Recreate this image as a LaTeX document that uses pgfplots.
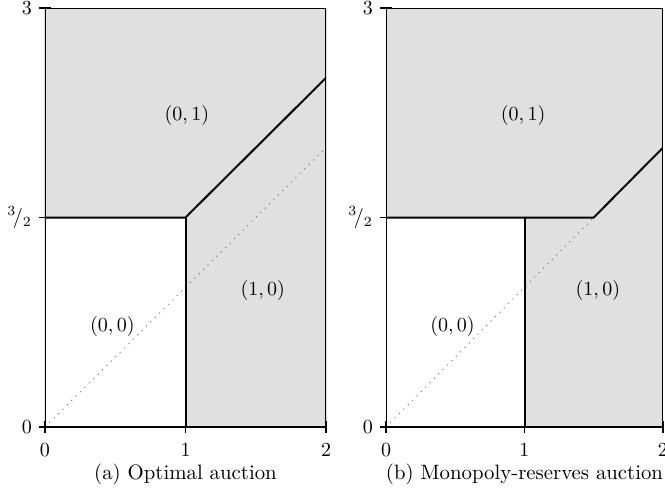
\documentclass[border=0pt]{standalone}
\usepackage{pgfplots}
\pgfplotsset{compat=1.18}
\definecolor{regiongray}{RGB}{224,224,224}
\pgfplotsset{
  content/.style={
    scale only axis,
    xmin=0, xmax=2, ymin=0, ymax=3,
    height=209.5pt,
    hide axis,
  },
  tickaxis/.style={
    scale only axis,
    xmin=0, xmax=2, ymin=0, ymax=3,
    height=209.5pt,
    axis x line*=bottom, axis y line*=left,
    xtick={0,1,2},
    ytick={0,1.5,3},
    yticklabels={$0$,${}^{3}\!/_{2}$,$3$},
    tick align=center,
    major tick length=6pt,
    major tick style={draw=black, line width=0.6pt},
    xticklabel style={yshift=-2pt, font=\fontsize{10.4}{12}\selectfont},
    yticklabel style={font=\fontsize{10.4}{12}\selectfont},
  },
  bnd/.style={black, line width=1pt},
  frm/.style={black, line width=0.9pt},
  diag/.style={black!55, line width=0.5pt, dash pattern=on 0.5pt off 2.6pt},
}
\begin{document}
\begin{tikzpicture}
\begin{axis}[content, width=140.5pt, at={(0pt,0pt)}, anchor=south west]
  \addplot[fill=regiongray, draw=none] coordinates {(0,1.5) (1,1.5) (1,0) (2,0) (2,3) (0,3)} -- cycle;
  \addplot[diag] coordinates {(0,0) (2,2)};
  \addplot[bnd] coordinates {(0,1.5) (1,1.5) (2,2.5)};
  \addplot[bnd] coordinates {(1,0) (1,1.5)};
  \addplot[frm] coordinates {(0,0) (2,0) (2,3) (0,3)} -- cycle;
  \node[font=\fontsize{10.4}{12}\selectfont] at (axis cs:1.01,2.23) {$(0,1)$};
  \node[font=\fontsize{10.4}{12}\selectfont] at (axis cs:1.55,0.98) {$(1,0)$};
  \node[fill=white, inner sep=1pt, font=\fontsize{10.4}{12}\selectfont] at (axis cs:0.48,0.72) {$(0,0)$};
\end{axis}
\begin{axis}[tickaxis, width=140.5pt, at={(0pt,0pt)}, anchor=south west]
\end{axis}
\begin{axis}[content, width=138.5pt, at={(170.5pt,0pt)}, anchor=south west]
  \addplot[fill=regiongray, draw=none] coordinates {(0,1.5) (1,1.5) (1,0) (2,0) (2,3) (0,3)} -- cycle;
  \addplot[diag] coordinates {(0,0) (1.5,1.5)};
  \addplot[bnd] coordinates {(0,1.5) (1.5,1.5) (2,2)};
  \addplot[bnd] coordinates {(1,0) (1,1.5)};
  \addplot[frm] coordinates {(0,0) (2,0) (2,3) (0,3)} -- cycle;
  \node[font=\fontsize{10.4}{12}\selectfont] at (axis cs:0.99,2.23) {$(0,1)$};
  \node[font=\fontsize{10.4}{12}\selectfont] at (axis cs:1.53,0.98) {$(1,0)$};
  \node[fill=white, inner sep=1pt, font=\fontsize{10.4}{12}\selectfont] at (axis cs:0.48,0.72) {$(0,0)$};
\end{axis}
\begin{axis}[tickaxis, width=138.5pt, at={(170.5pt,0pt)}, anchor=south west]
\end{axis}
\node[font=\fontsize{10.4}{12}\selectfont] at (70.25pt,-23.5pt) {(a) Optimal auction};
\node[font=\fontsize{10.4}{12}\selectfont] at (239.75pt,-23.5pt) {(b) Monopoly-reserves auction};
\pgfresetboundingbox
\useasboundingbox (-22.5pt,-33pt) rectangle (310pt,213.5pt);
\end{tikzpicture}
\end{document}
